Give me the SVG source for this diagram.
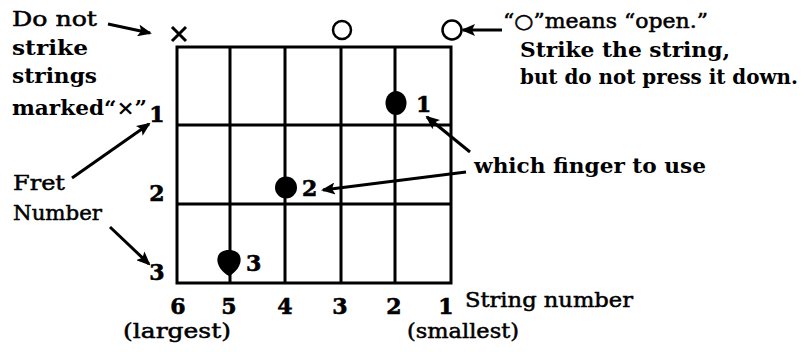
<svg xmlns="http://www.w3.org/2000/svg" width="804" height="352" viewBox="0 0 804 352">
<style>
.h{font-family:"DejaVu Serif","Liberation Serif",serif;font-weight:bold;font-size:20px;fill:#000}
.m{font-family:"DejaVu Serif","Liberation Serif",serif;font-weight:normal;font-size:20px;fill:#000;stroke:#000;stroke-width:0.5}
.n{font-family:"DejaVu Serif","Liberation Serif",serif;font-weight:bold;font-size:22px;fill:#000;stroke:#000;stroke-width:0.6;text-anchor:middle}
.f{font-family:"DejaVu Serif","Liberation Serif",serif;font-weight:bold;font-size:22px;fill:#000;stroke:#000;stroke-width:0.6}
.g{stroke:#000;stroke-width:3;fill:none;stroke-linecap:square}
.a{stroke:#000;stroke-width:3;fill:none}
.o{stroke:#000;stroke-width:2.5;fill:#fff}
</style>
<defs>
<marker id="ah" markerUnits="userSpaceOnUse" markerWidth="14" markerHeight="12" refX="12" refY="6" orient="auto">
<path d="M0,0 L14,6 L0,12 L3,6 z" fill="#000"/>
</marker>
</defs>
<rect width="804" height="352" fill="#fff"/>
<g id="grid">
<path class="g" d="M177,47 H451 M177,125 H451 M177,204 H451 M177,283 H451 M177,47 V283 M230,47 V283 M285,47 V283 M341,47 V283 M395,47 V283 M451,47 V283"/>
</g>
<g id="markers-top">
<path class="a" d="M172,27 L186,41 M186,27 L172,41"/>
<circle class="o" cx="342" cy="30" r="9"/>
<circle class="o" cx="452" cy="30" r="9.5"/>
</g>
<g id="finger1"><ellipse cx="396" cy="103" rx="10.5" ry="12" fill="#000"/><text class="f" x="416" y="112">1</text></g>
<g id="finger2"><ellipse cx="286" cy="187.5" rx="11" ry="11" fill="#000"/><text class="f" x="302" y="196">2</text></g>
<g id="finger3"><path d="M229,250 C245,250 244,268 229,276 C214,268 213,250 229,250 z" fill="#000"/><text class="f" x="246" y="271">3</text></g>
<g id="fret-numbers">
<text class="n" x="157" y="122">1</text>
<text class="n" x="157" y="201">2</text>
<text class="n" x="157" y="280">3</text>
</g>
<g id="string-numbers">
<text class="n" x="178" y="314">6</text>
<text class="n" x="229" y="314">5</text>
<text class="n" x="285" y="314">4</text>
<text class="n" x="340" y="314">3</text>
<text class="n" x="394" y="314">2</text>
<text class="n" x="446" y="314">1</text>
</g>
<g id="note-do-not">
<text class="m" x="12" y="26" textLength="85" lengthAdjust="spacingAndGlyphs">Do not</text>
<text class="h" x="12" y="55" textLength="76" lengthAdjust="spacingAndGlyphs">strike</text>
<text class="h" x="12" y="83" textLength="85" lengthAdjust="spacingAndGlyphs">strings</text>
<text class="h" x="12" y="115" textLength="135" lengthAdjust="spacingAndGlyphs">marked“×”</text>
</g>
<g id="note-fret">
<text class="m" x="13" y="190" textLength="52" lengthAdjust="spacingAndGlyphs">Fret</text>
<text class="m" x="13" y="220" textLength="89" lengthAdjust="spacingAndGlyphs">Number</text>
</g>
<g id="note-open">
<text class="m" x="503" y="28" textLength="205" lengthAdjust="spacingAndGlyphs">“○”means “open.”</text>
<text class="h" x="520" y="57" textLength="210" lengthAdjust="spacingAndGlyphs">Strike the string,</text>
<text class="h" x="520" y="84" textLength="278" lengthAdjust="spacingAndGlyphs">but do not press it down.</text>
</g>
<g id="note-finger">
<text class="h" x="474" y="173" textLength="232" lengthAdjust="spacingAndGlyphs">which finger to use</text>
</g>
<g id="note-string">
<text class="m" x="465" y="307" textLength="168" lengthAdjust="spacingAndGlyphs">String number</text>
<text class="m" x="123" y="338" textLength="108" lengthAdjust="spacingAndGlyphs">(largest)</text>
<text class="m" x="407" y="338" textLength="112" lengthAdjust="spacingAndGlyphs">(smallest)</text>
</g>
<g id="connectors">
<line class="a" x1="108" y1="24" x2="150" y2="33" marker-end="url(#ah)"/>
<line class="a" x1="72" y1="178" x2="149" y2="124" marker-end="url(#ah)"/>
<line class="a" x1="110" y1="227" x2="149" y2="264" marker-end="url(#ah)"/>
<line class="a" x1="502" y1="30" x2="463" y2="30" marker-end="url(#ah)"/>
<line class="a" x1="470" y1="152" x2="427" y2="117" marker-end="url(#ah)"/>
<line class="a" x1="466" y1="172" x2="323" y2="190" marker-end="url(#ah)"/>
</g>
</svg>
